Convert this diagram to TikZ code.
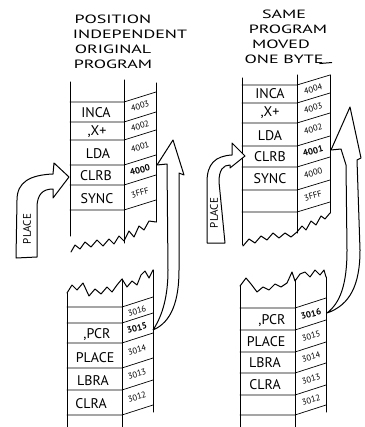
\documentclass[tikz,border=0pt]{standalone}
\usepackage{fontspec}
\setmainfont{PT Sans}
\begin{document}
\begin{tikzpicture}[x=1pt,y=-1pt,
 ln/.style={line width=1pt,line cap=round,line join=round},
 rowln/.style={line width=0.7pt,line cap=round,line join=round},
 lab/.style={font=\fontsize{14}{14}\selectfont,inner sep=0pt},
 num/.style={font=\fontsize{8.5}{9}\selectfont,inner sep=0pt,rotate=15},
 bnum/.style={num,font=\fontsize{9}{9}\selectfont\bfseries},
 hdr/.style={font=\fontsize{12}{12}\selectfont,inner sep=0pt,xscale=1.5},
 plc/.style={font=\fontsize{11}{11}\selectfont,inner sep=0pt,rotate=90},
 blockarrow/.style={line width=1pt,line join=round,fill=white}]
\fill[white] (0,0) rectangle (364,427);
\useasboundingbox (0,0) rectangle (364,427);

% ---------- headers ----------
\node[hdr] (hl1) at (113,19) {POSITION};
\node[hdr] (hl2) at (130,34) {INDEPENDENT};
\node[hdr] (hl3) at (113,49) {ORIGINAL};
\node[hdr] (hl4) at (113,64) {PROGRAM};
\node[hdr] (hr1) at (284,14) {SAME};
\node[hdr] (hr2) at (288,29) {PROGRAM};
\node[hdr] (hr3) at (281,44) {MOVED};
\node[hdr] (hr4) at (284,59) {ONE BYTE};
\draw[ln] (hr4.south east) ++(-4,0) -- ++(12,-1);

% ---------- upper left block ----------
\draw[ln] (70,82) -- (70,236);
\draw[ln] (124,80) -- (124,243);
\draw[ln] (156,83) -- (156,222);
\foreach \y in {102,122,140,165,185,210}
  \draw[rowln] (70,\y) -- (124,\y) -- (156,{\y-10});
\draw[ln] (71,252) -- (75,245) -- (80,249) -- (85,242) -- (91,247) -- (97,240) -- (103,246) -- (109,239) -- (114,244) -- (119,236) -- (124,241) -- (129,231) -- (134,237) -- (139,226) -- (144,230) -- (149,221) -- (156,222);
\node[lab] (ula) at (96,113) {INCA};
\node[lab] (ulb) at (97,132) {,X+};
\node[lab] (ulc) at (98,154) {LDA};
\node[lab] (uld) at (96,176) {CLRB};
\node[lab] (ule) at (97,199) {SYNC};
\node[num]  (uln1) at (140,106) {4003};
\node[num]  (uln2) at (140,126) {4002};
\node[num]  (uln3) at (140,147) {4001};
\node[bnum] (uln4) at (140,170) {4000};
\node[num]  (uln5) at (140,193) {3FFF};

% ---------- upper right block ----------
\draw[ln] (242,78) -- (242,245);
\draw[ln] (297,75) -- (297,233);
\draw[ln] (330,75) -- (330,213);
\foreach \y in {85,103,123,146,167,190,212}
  \draw[rowln] (242,\y) -- (297,\y) -- (330,{\y-10});
\draw[ln] (243,246) -- (249,239) -- (255,243) -- (261,236) -- (267,240) -- (273,233) -- (279,238) -- (285,233) -- (291,237) -- (297,232) -- (302,226) -- (306,230) -- (311,221) -- (316,225) -- (321,216) -- (325,219) -- (330,213);
\node[lab] (ura) at (270,94) {INCA};
\node[lab] (urb) at (270,113) {,X+};
\node[lab] (urc) at (270,136) {LDA};
\node[lab] (urd) at (270,157) {CLRB};
\node[lab] (ure) at (270,179) {SYNC};
\node[num]  (urn1) at (313,89) {4004};
\node[num]  (urn2) at (313,108) {4003};
\node[num]  (urn3) at (313,129) {4002};
\node[bnum] (urn4) at (313,151) {4001};
\node[num]  (urn5) at (313,173) {4000};
\node[num]  (urn6) at (313,196) {3FFF};

% ---------- lower left block ----------
\draw[ln] (67,293) -- (67,427);
\draw[ln] (122,279) -- (122,427);
\draw[ln] (153,270) -- (153,412);
\foreach \y in {307,323,343,368,390,415}
  \draw[rowln] (67,\y) -- (122,\y) -- (153,{\y-10});
\draw[ln] (67,293) -- (72,285) -- (77,290) -- (83,283) -- (89,296) -- (95,289) -- (101,294) -- (107,287) -- (112,292) -- (117,285) -- (122,279) -- (127,287) -- (132,281) -- (137,285) -- (141,275) -- (145,271) -- (149,278) -- (153,270);
\node[lab] (lla) at (97,335) {,PCR};
\node[lab] (llb) at (95,358) {PLACE};
\node[lab] (llc) at (93,381) {LBRA};
\node[lab] (lld) at (91,404) {CLRA};
\node[num]  (lln1) at (137,311) {3016};
\node[bnum] (lln2) at (137,328) {3015};
\node[num]  (lln3) at (137,350) {3014};
\node[num]  (lln4) at (137,374) {3013};
\node[num]  (lln5) at (137,397) {3012};

% ---------- lower right block ----------
\draw[ln] (240,286) -- (240,427);
\draw[ln] (295,280) -- (295,427);
\draw[ln] (326,277) -- (326,412);
\foreach \y in {308,330,352,373,395,415}
  \draw[rowln] (240,\y) -- (295,\y) -- (326,{\y-10});
\draw[ln] (240,286) -- (246,278) -- (251,284) -- (257,292) -- (263,287) -- (269,290) -- (275,284) -- (281,287) -- (287,283) -- (292,272) -- (295,281) -- (300,274) -- (305,272) -- (310,277) -- (315,270) -- (320,275) -- (324,270) -- (326,277);
\node[lab] (lra) at (272,321) {,PCR};
\node[lab] (lrb) at (266,342) {PLACE};
\node[lab] (lrc) at (265,363) {LBRA};
\node[lab] (lrd) at (265,385) {CLRA};
\node[bnum] (lrn1) at (311,314) {3016};
\node[num]  (lrn2) at (311,336) {3015};
\node[num]  (lrn3) at (311,357) {3014};
\node[num]  (lrn4) at (311,379) {3013};
\node[num]  (lrn5) at (311,400) {3012};

% ---------- PLACE block arrows ----------
\draw[blockarrow] (16,258) -- (17,200) .. controls (17,182) and (30,175) .. (53,174)
  -- (54,163) -- (69,177) -- (53,198) -- (53,189)
  .. controls (42,189) and (38,195) .. (37,205) -- (37,257) -- cycle;
\node[plc] (pl1) at (27,229) {PLACE};
\draw[blockarrow] (207,243) -- (207,182) .. controls (207,164) and (215,156) .. (232,155)
  -- (232,143) -- (245,156) -- (230,168) -- (230,165)
  .. controls (223,165) and (219,170) .. (219,182) -- (225,243) -- cycle;
\node[plc] (pl2) at (214,213) {PLACE};

% ---------- big curved arrows ----------
\coordinate (lt) at (153,330);
\coordinate (rt) at (327,313);
\draw[blockarrow,fill=none] (lt) .. controls (172,322) and (179,300) .. (179,270)
  -- (179,173) -- (184,175) -- (173,140) -- (157,165) -- (167,164) -- (168,270)
  .. controls (168,295) and (163,315) .. (lt);
\draw[blockarrow,fill=none] (rt) .. controls (350,305) and (360,285) .. (360,250)
  -- (357,160) -- (361,158) -- (350,107) -- (331,150) -- (341,149) -- (346,165)
  -- (347,250) .. controls (347,285) and (340,303) .. (rt);
\end{tikzpicture}
\end{document}
